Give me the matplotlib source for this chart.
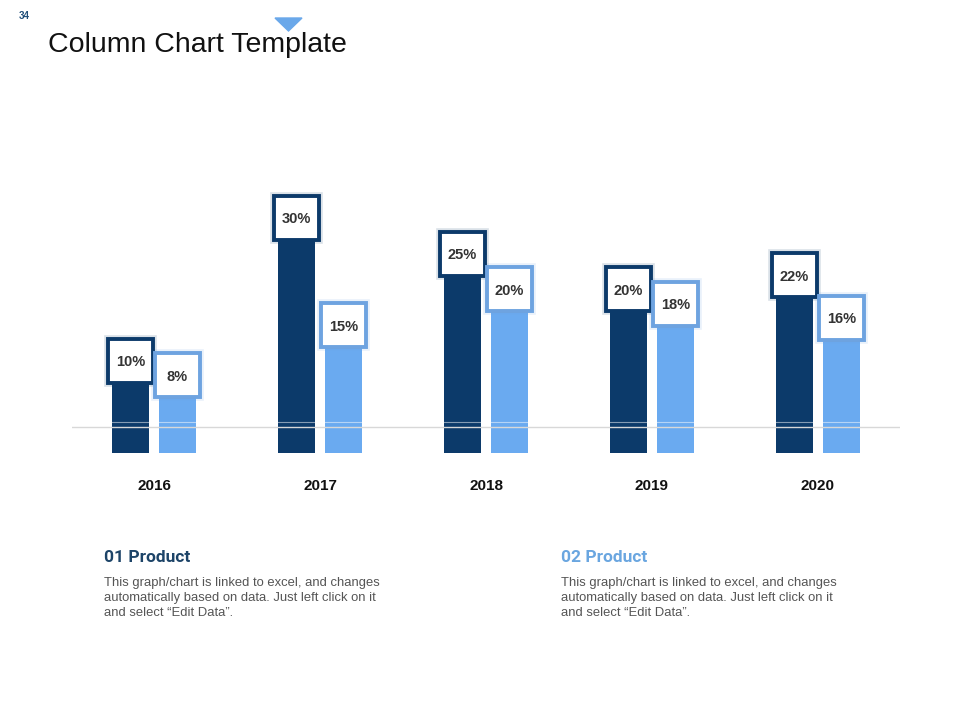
import matplotlib
matplotlib.use('Agg')
import matplotlib.pyplot as plt
from matplotlib.patches import Rectangle, Polygon
import numpy as np

# chart data
years = ['2016', '2017', '2018', '2019', '2020']
product_01 = [10, 30, 25, 20, 22]
product_02 = [8, 15, 20, 18, 16]
value_labels_01 = ['10%', '30%', '25%', '20%', '22%']
value_labels_02 = ['8%', '15%', '20%', '18%', '16%']

body_text = ('This graph/chart is linked to excel, and changes\n'
             'automatically based on data. Just left click on it\n'
             'and select \u201cEdit Data\u201d.')

DARK = '#0c3a6a'
LIGHT = '#6aaaf0'
LIGHT_EDGE = '#6ea3e0'

HEAD = ['Roboto', 'Liberation Sans', 'DejaVu Sans']
plt.rcParams['font.family'] = ['Liberation Sans', 'DejaVu Sans']

fig = plt.figure(figsize=(9.6, 7.2), dpi=100)
fig.patch.set_facecolor('white')

# axes placed in pixel terms: x 72..900, y 180..453
ax = fig.add_axes([72 / 960, (720 - 453) / 720, 828 / 960, 273 / 720])
ymin, ymax = -2.87, 35.3
ax.set_xlim(-0.494, 4.494)
ax.set_ylim(ymin, ymax)
ax.axis('off')

x = np.arange(len(years))
off = 0.1416
w = 0.223
ax.bar(x - off, np.array(product_01) - ymin, bottom=ymin, width=w, color=DARK, zorder=2)
ax.bar(x + off, np.array(product_02) - ymin, bottom=ymin, width=w, color=LIGHT, zorder=2)

# baseline
ax.axhline(0.77, color='#d8d8d8', lw=1, zorder=3)
ax.axhline(1.5, color='white', lw=0.8, alpha=0.5, zorder=3)

# label boxes
bw = 45 / 166
bh = 44 / 7.15
for xs, vals, labs, edge in [(x - off, product_01, value_labels_01, DARK),
                              (x + off, product_02, value_labels_02, LIGHT_EDGE)]:
    for xi, v, lab in zip(xs, vals, labs):
        glow = Rectangle((xi - bw / 2, v - bh / 2), bw, bh,
                         facecolor='none', edgecolor=edge, lw=5.5, alpha=0.15, zorder=4)
        ax.add_patch(glow)
        box = Rectangle((xi - bw / 2, v - bh / 2), bw, bh, facecolor='white',
                        edgecolor=edge, lw=2.8, zorder=5)
        ax.add_patch(box)
        ax.text(xi, v - 0.2, lab, ha='center', va='center', fontsize=10.5,
                fontweight='bold', color='#333333', zorder=6)

# year labels
for xi, yr in zip(x, years):
    ax.text(xi, -7.5, yr, ha='center', va='center', fontsize=11,
            fontweight='bold', color='#111111', clip_on=False)

# header
fig.text(19 / 960, 1 - 16 / 720, '34', fontsize=7, fontweight='bold',
         color='#1f4e79', va='center', ha='left')
fig.text(48 / 960, 1 - 45 / 720, 'Column Chart Template', fontsize=20.5,
         color='#111111', va='center', ha='left')
tri = Polygon([[275 / 960, 1 - 18 / 720], [302 / 960, 1 - 18 / 720],
               [288.5 / 960, 1 - 31 / 720]], closed=True, color='#6aa8ea',
              transform=fig.transFigure)
fig.patches.append(tri)

# product descriptions
fig.text(104 / 960, 1 - 557 / 720, '01 Product', fontsize=12.5, fontweight='bold',
         family=HEAD, color='#1d4468', va='center', ha='left')
fig.text(561 / 960, 1 - 557 / 720, '02 Product', fontsize=12.5, fontweight='bold',
         family=HEAD, color='#6aa6e0', va='center', ha='left')
for px in [104, 561]:
    fig.text(px / 960, 1 - 577 / 720, body_text, fontsize=9.4, color='#555555',
             va='top', ha='left', linespacing=1.36)

fig.savefig('out.png', dpi=100)
